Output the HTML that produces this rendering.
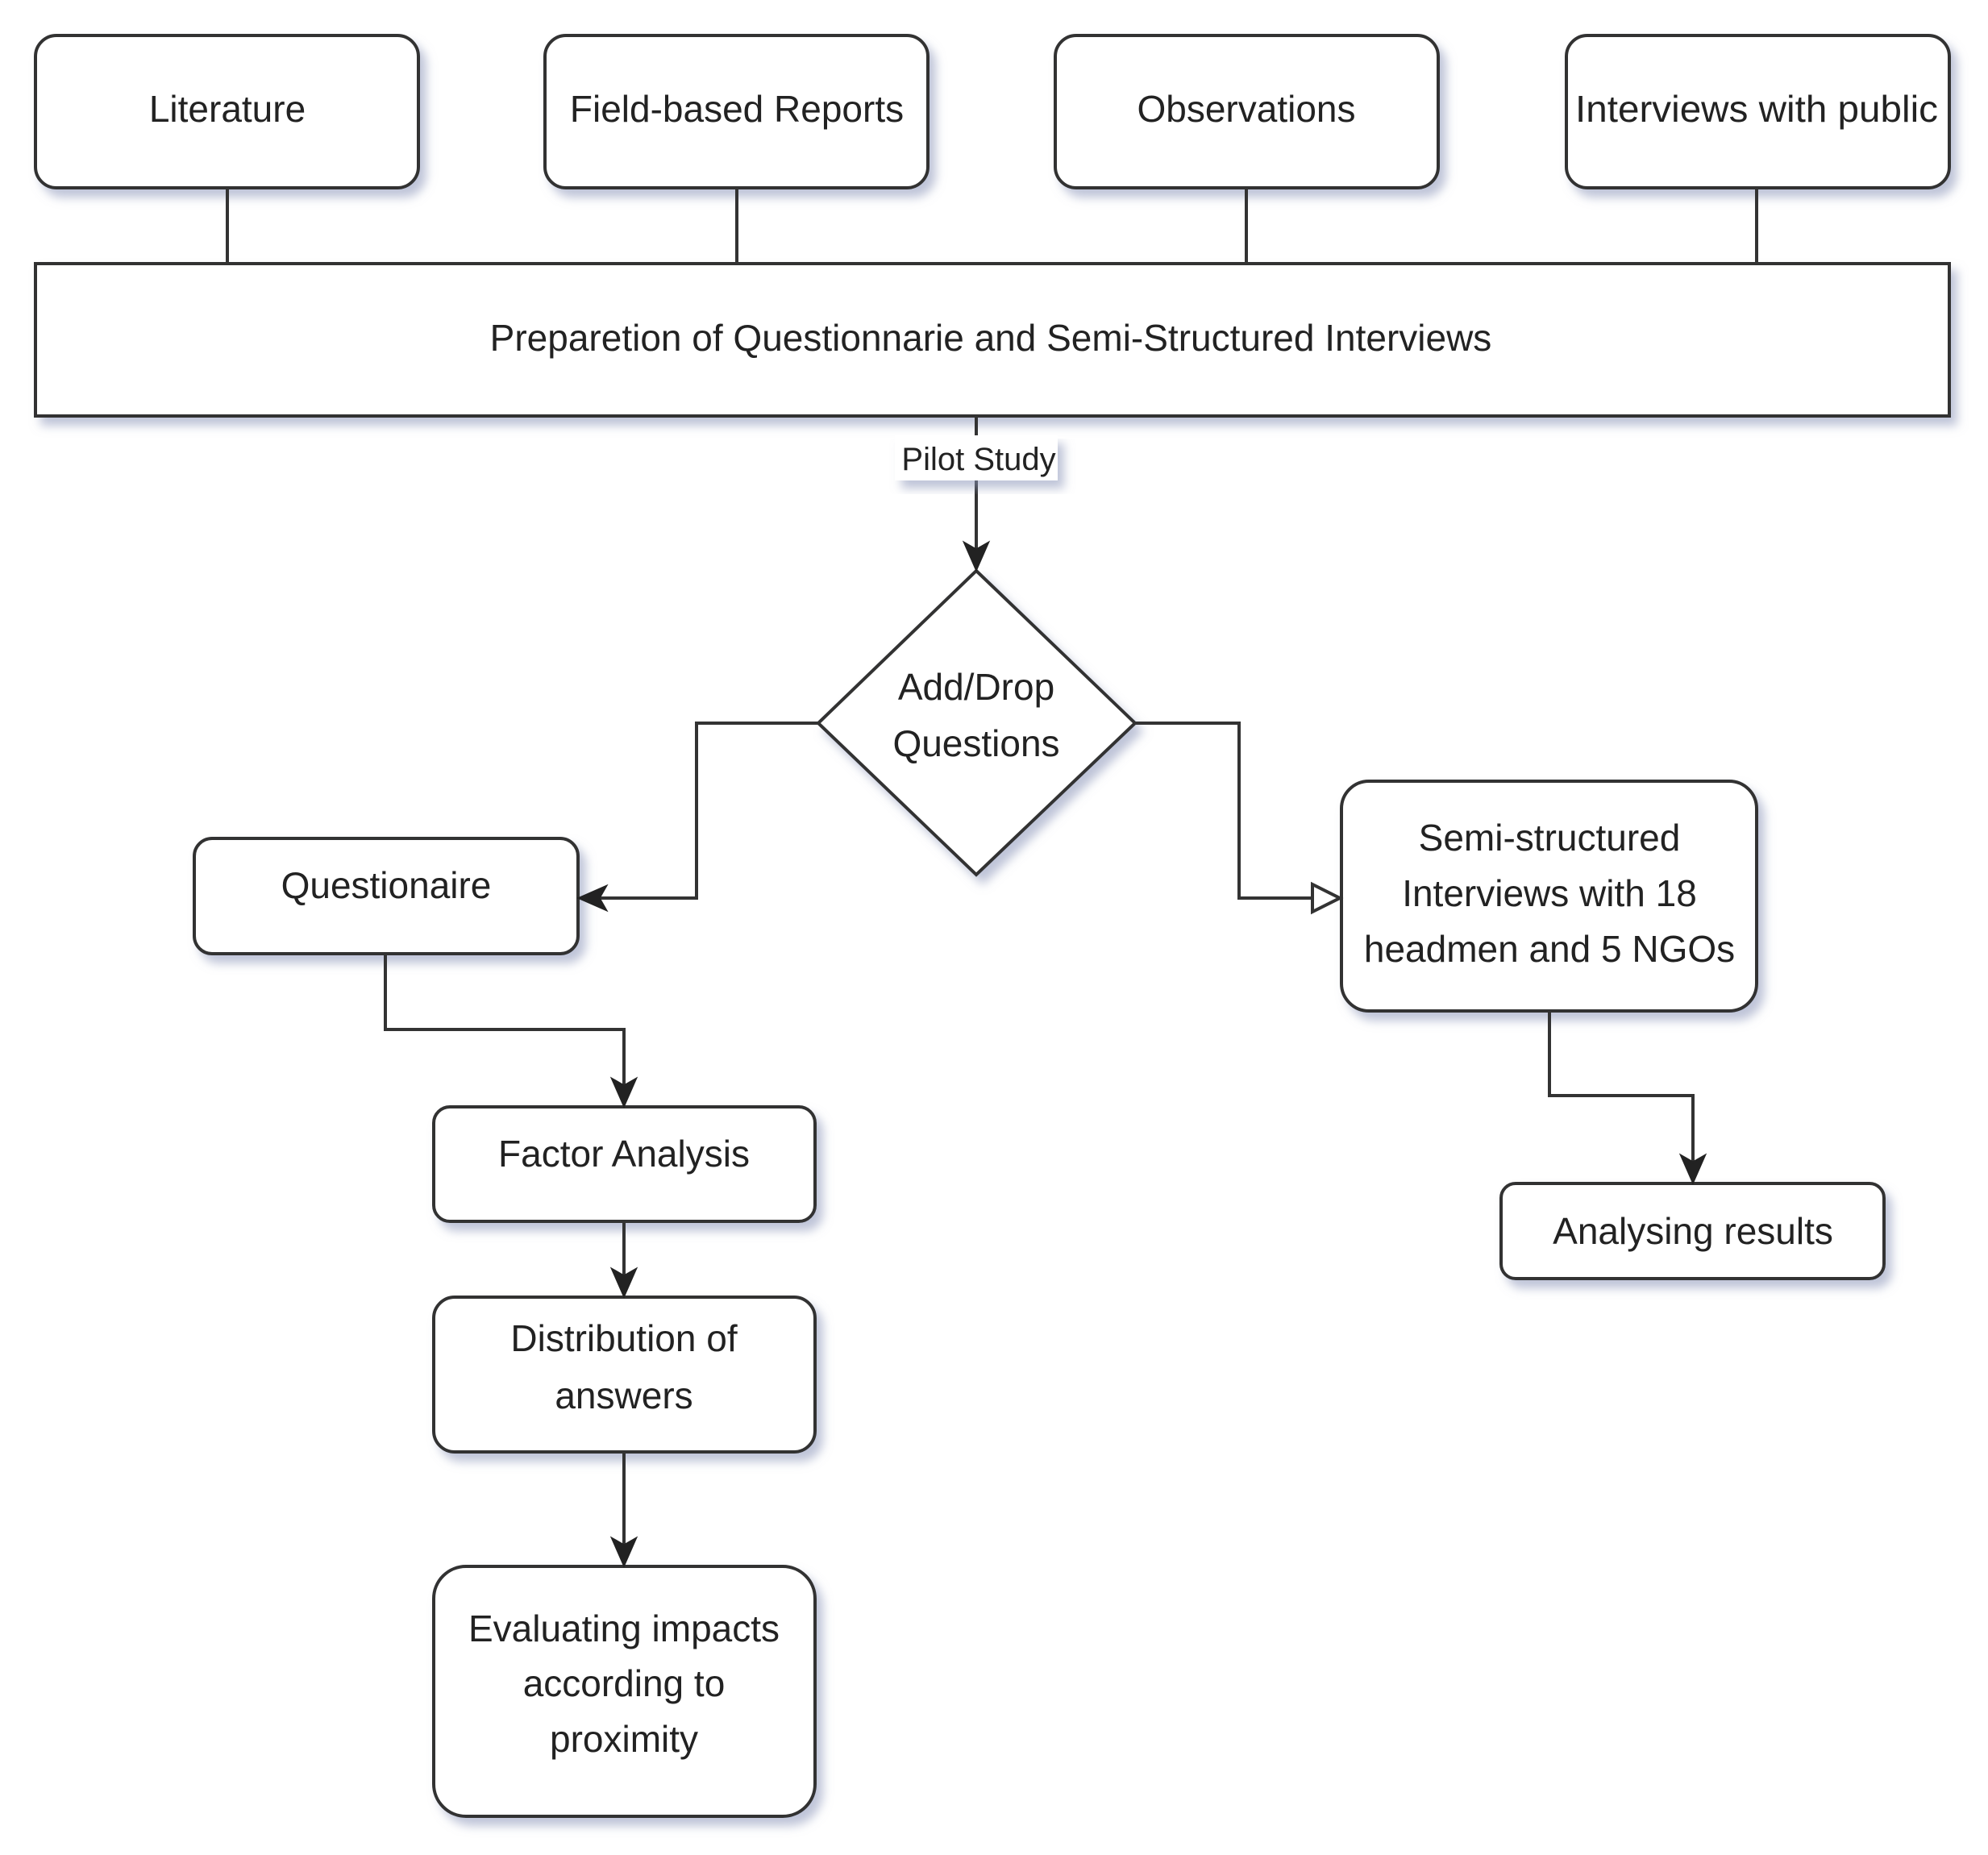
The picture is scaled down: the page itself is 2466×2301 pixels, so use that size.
<!DOCTYPE html>
<html><head><meta charset="utf-8"><style>
html,body{margin:0;padding:0;background:#fff}
svg{display:block}
text{font-family:"Liberation Sans",Arial,sans-serif;font-size:46px;fill:#222;text-anchor:middle}
</style></head><body>
<svg width="2466" height="2301" viewBox="0 0 2466 2301" xmlns="http://www.w3.org/2000/svg">
<defs>
<filter id="sh" x="-10%" y="-10%" width="130%" height="140%">
<feGaussianBlur in="SourceAlpha" stdDeviation="6"/>
<feOffset dx="8" dy="10" result="b"/>
<feFlood flood-color="#8a94b8" flood-opacity="0.55"/>
<feComposite in2="b" operator="in"/>
<feMerge><feMergeNode/><feMergeNode in="SourceGraphic"/></feMerge>
</filter>
<marker id="ar" markerWidth="10" markerHeight="10" refX="9" refY="5" orient="auto" markerUnits="userSpaceOnUse" viewBox="0 0 10 10">
</marker>
</defs>
<g fill="#fff" stroke="#333" stroke-width="4" filter="url(#sh)">
<rect x="44" y="44" width="475" height="189" rx="26"/>
<rect x="676" y="44" width="475" height="189" rx="26"/>
<rect x="1309" y="44" width="475" height="189" rx="26"/>
<rect x="1943" y="44" width="475" height="189" rx="26"/>
<rect x="44" y="327" width="2374" height="189"/>
<polygon points="1211,708 1408,897 1211,1085 1015,897"/>
<rect x="241" y="1040" width="476" height="143" rx="22"/>
<rect x="1664" y="969" width="515" height="285" rx="34"/>
<rect x="1862" y="1468" width="475" height="118" rx="18"/>
<rect x="538" y="1373" width="473" height="142" rx="20"/>
<rect x="538" y="1609" width="473" height="192" rx="26"/>
<rect x="538" y="1943" width="473" height="310" rx="40"/>
</g>
<g fill="none" stroke="#333" stroke-width="4">
<line x1="282" y1="233" x2="282" y2="327"/>
<line x1="914" y1="233" x2="914" y2="327"/>
<line x1="1546" y1="233" x2="1546" y2="327"/>
<line x1="2179" y1="233" x2="2179" y2="327"/>
<line x1="1211" y1="516" x2="1211" y2="690"/>
<polyline points="1015,897 864,897 864,1114 738,1114"/>
<polyline points="1408,897 1537,897 1537,1114 1630,1114"/>
<polyline points="478,1183 478,1277 774,1277 774,1352"/>
<line x1="774" y1="1515" x2="774" y2="1590"/>
<line x1="774" y1="1801" x2="774" y2="1924"/>
<polyline points="1922,1254 1922,1359 2100,1359 2100,1448"/>
</g>
<g fill="#222" stroke="#222" stroke-width="3">
<polygon points="1211,706 1197,674 1211,682 1225,674"/>
<polygon points="719,1114 751,1100 743,1114 751,1128"/>
<polygon points="774,1371 760,1339 774,1347 788,1339"/>
<polygon points="774,1607 760,1575 774,1583 788,1575"/>
<polygon points="774,1941 760,1909 774,1917 788,1909"/>
<polygon points="2100,1466 2086,1434 2100,1442 2114,1434"/>
</g>
<polygon points="1662,1114 1628,1097 1628,1131" fill="#fff" stroke="#333" stroke-width="4"/>
<rect x="1110" y="540" width="202" height="56" fill="#fff" filter="url(#sh)"/>
<text x="282" y="151">Literature</text>
<text x="914" y="151">Field-based Reports</text>
<text x="1546" y="151">Observations</text>
<text x="2179" y="151" textLength="450" lengthAdjust="spacingAndGlyphs">Interviews with public</text>
<text x="1229" y="435">Preparetion of Questionnarie and Semi-Structured Interviews</text>
<text x="1214" y="583" style="font-size:40px">Pilot Study</text>
<text x="1211" y="868">Add/Drop</text>
<text x="1211" y="938">Questions</text>
<text x="479" y="1114">Questionaire</text>
<text x="1922" y="1055">Semi-structured</text>
<text x="1922" y="1124">Interviews with 18</text>
<text x="1922" y="1193">headmen and 5 NGOs</text>
<text x="2100" y="1543">Analysing results</text>
<text x="774" y="1447">Factor Analysis</text>
<text x="774" y="1676">Distribution of</text>
<text x="774" y="1747">answers</text>
<text x="774" y="2036">Evaluating impacts</text>
<text x="774" y="2104">according to</text>
<text x="774" y="2173">proximity</text>
</svg>
</body></html>
